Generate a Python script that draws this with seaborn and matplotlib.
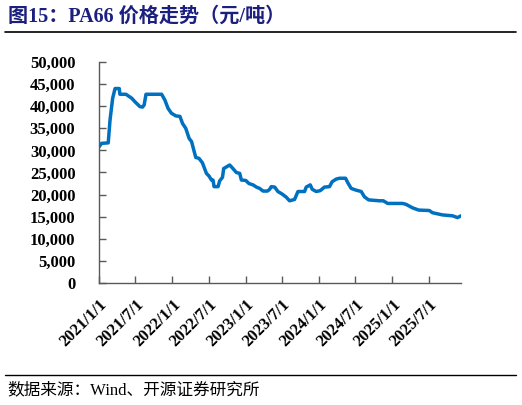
import matplotlib
matplotlib.use("Agg")
import matplotlib.pyplot as plt
from matplotlib.ticker import FuncFormatter
import seaborn as sns
import pandas as pd

dates = [
    "2021-01-01", "2021-01-14", "2021-02-16", "2021-02-25", "2021-03-10", "2021-03-22",
    "2021-04-12", "2021-04-15", "2021-05-15", "2021-06-13", "2021-06-29", "2021-07-24",
    "2021-08-06", "2021-08-14", "2021-08-23", "2021-11-09", "2021-11-25", "2021-12-11",
    "2021-12-28", "2022-01-19", "2022-02-08", "2022-02-21", "2022-03-09", "2022-03-26",
    "2022-04-07", "2022-04-18", "2022-04-28", "2022-05-14", "2022-05-31", "2022-06-20",
    "2022-07-03", "2022-07-15", "2022-07-23", "2022-07-28", "2022-08-17", "2022-08-25",
    "2022-09-08", "2022-09-14", "2022-10-14", "2022-10-30", "2022-11-16", "2022-12-03",
    "2022-12-11", "2023-01-02", "2023-01-18", "2023-02-07", "2023-02-24", "2023-03-12",
    "2023-03-29", "2023-04-20", "2023-05-01", "2023-05-09", "2023-05-26", "2023-06-11",
    "2023-07-03", "2023-07-23", "2023-08-08", "2023-09-02", "2023-09-19", "2023-10-22",
    "2023-10-30", "2023-11-19", "2023-11-29", "2023-12-19", "2024-01-08", "2024-01-29",
    "2024-02-23", "2024-03-07", "2024-03-27", "2024-04-13", "2024-05-13", "2024-05-24",
    "2024-06-10", "2024-07-05", "2024-07-30", "2024-08-15", "2024-09-05", "2024-10-29",
    "2024-11-17", "2024-12-09", "2025-02-21", "2025-03-10", "2025-04-12", "2025-05-12",
    "2025-07-04", "2025-07-20", "2025-09-08", "2025-10-28", "2025-11-22", "2025-12-09",
]
prices = [
    30800, 31600, 31700, 36900, 41800, 44000,
    44000, 42700, 42700, 41800, 41000, 39900,
    39800, 40300, 42700, 42700, 41400, 39500,
    38400, 37800, 37700, 36100, 35000, 32700,
    32000, 30100, 28400, 28200, 27200, 24800,
    24200, 23300, 23300, 21800, 21800, 23100,
    23900, 25900, 26700, 25900, 25000, 24800,
    23300, 23200, 22500, 22200, 21700, 21400,
    20800, 20800, 21200, 21800, 21700, 20700,
    20100, 19400, 18600, 18900, 20700, 20700,
    21700, 22200, 21200, 20700, 20900, 21700,
    21800, 22900, 23500, 23700, 23700, 22700,
    21400, 21000, 20700, 19500, 18800, 18600,
    18600, 18000, 18000, 17800, 17000, 16500,
    16400, 15900, 15400, 15200, 14800, 15200,
]
tick_dates = ["2021-01-01", "2021-07-01", "2022-01-01", "2022-07-01", "2023-01-01",
              "2023-07-01", "2024-01-01", "2024-07-01", "2025-01-01", "2025-07-01"]
tick_labels = ["2021/1/1", "2021/7/1", "2022/1/1", "2022/7/1", "2023/1/1",
               "2023/7/1", "2024/1/1", "2024/7/1", "2025/1/1", "2025/7/1"]
y_ticks = [0, 5000, 10000, 15000, 20000, 25000, 30000, 35000, 40000, 45000, 50000]

title = "图15：PA66 价格走势（元/吨）"
source = "数据来源：Wind、开源证券研究所"

sns.set_style("ticks")
plt.rcParams["font.family"] = ["Liberation Serif", "Noto Sans CJK SC", "DejaVu Sans"]

df = pd.DataFrame({"date": pd.to_datetime(dates), "price": prices})

fig = plt.figure(figsize=(5.22, 4.05), dpi=100)
ax = fig.add_axes([99 / 522, 1 - 283 / 405, (461 - 99) / 522, (283 - 62) / 405])

sns.lineplot(data=df, x="date", y="price", ax=ax, color="#0070C0", linewidth=2.5)

ax.set_xlim(df["date"].iloc[0], df["date"].iloc[-1])
ax.set_ylim(0, 50000)
ax.set_yticks(y_ticks)
ax.yaxis.set_major_formatter(FuncFormatter(lambda v, p: f"{int(v):,}"))
ax.set_xticks(pd.to_datetime(tick_dates))
ax.set_xticklabels(tick_labels, rotation=45, ha="right", rotation_mode="anchor")
ax.set_xlabel("")
ax.set_ylabel("")

for lab in ax.get_xticklabels() + ax.get_yticklabels():
    lab.set_fontweight("bold")
    lab.set_fontsize(12)
    lab.set_color("black")

ax.tick_params(axis="y", direction="in", length=5, width=1, color="#595959", pad=17)
ax.tick_params(axis="x", direction="in", length=5, width=1, color="#595959", pad=10)
for s in ["top", "right"]:
    ax.spines[s].set_visible(False)
for s in ["left", "bottom"]:
    ax.spines[s].set_color("#595959")
    ax.spines[s].set_linewidth(1)

fig.text(8 / 522, 1 - 16.5 / 405, title, fontsize=14.5, fontweight="bold", color="#1B1F7E",
         va="center", ha="left")
fig.add_artist(plt.Line2D([5 / 522, 516 / 522], [1 - 31.5 / 405, 1 - 31.5 / 405],
                          color="black", linewidth=1.2))
fig.add_artist(plt.Line2D([5 / 522, 516 / 522], [1 - 375 / 405, 1 - 375 / 405],
                          color="black", linewidth=1.0))
fig.text(7 / 522, 1 - 390 / 405, source, fontsize=12, color="black", va="center", ha="left")

fig.savefig("out.png", dpi=100)
